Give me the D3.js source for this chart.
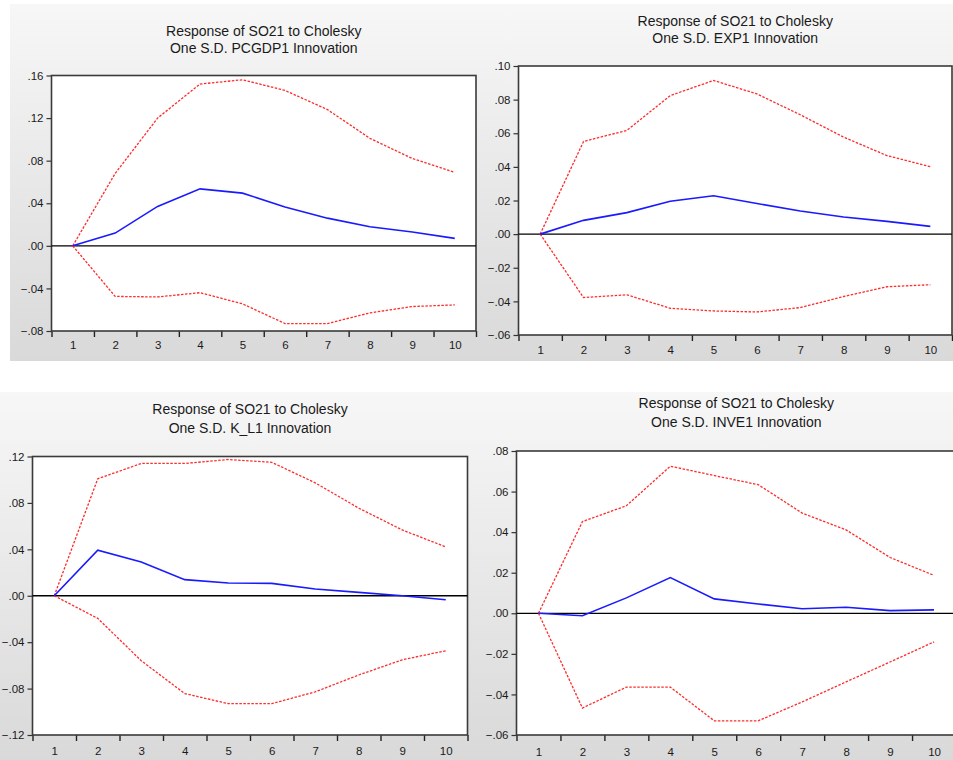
<!DOCTYPE html>
<html>
<head>
<meta charset="utf-8">
<script src="https://cdn.jsdelivr.net/npm/d3@7"></script>
<style>
  html, body { margin: 0; padding: 0; background: #fff; }
  svg { display: block; font-family: "Liberation Sans", Arial, sans-serif; }
</style>
</head>
<body>
<div id="chart"></div>
<script>
// horizon periods
const periods = [1, 2, 3, 4, 5, 6, 7, 8, 9, 10]

// PCGDP1 shock
const pcgdpResp  = [0, 0.012, 0.037, 0.0535, 0.0495, 0.0365, 0.026, 0.018, 0.013, 0.007]
const pcgdpUpper = [0, 0.068, 0.120, 0.152, 0.156, 0.146, 0.128, 0.101, 0.082, 0.069]
const pcgdpLower = [0, -0.0475, -0.048, -0.044, -0.0545, -0.073, -0.073, -0.063, -0.057, -0.0555]

// EXP1 shock
const expResp  = [0, 0.0082, 0.0128, 0.0196, 0.0228, 0.0182, 0.0138, 0.0102, 0.0076, 0.0046]
const expUpper = [0, 0.0551, 0.0617, 0.0824, 0.0914, 0.0834, 0.071, 0.0577, 0.0467, 0.0401]
const expLower = [0, -0.0377, -0.0361, -0.0441, -0.0457, -0.0463, -0.0437, -0.0371, -0.0313, -0.0301]

// K_L1 shock
const klResp  = [0, 0.0392, 0.029, 0.0139, 0.011, 0.0107, 0.0058, 0.0029, 0.0, -0.0035]
const klUpper = [0, 0.1008, 0.114, 0.114, 0.1174, 0.115, 0.0973, 0.0755, 0.0567, 0.0421]
const klLower = [0, -0.0195, -0.056, -0.0843, -0.093, -0.093, -0.0828, -0.0683, -0.0552, -0.0474]

// INVE1 shock
const inveResp  = [0, -0.0012, 0.0076, 0.0176, 0.0071, 0.0046, 0.0022, 0.003, 0.0013, 0.0017]
const inveUpper = [0, 0.0452, 0.053, 0.0725, 0.0679, 0.0634, 0.0494, 0.0411, 0.0275, 0.0187]
const inveLower = [0, -0.0467, -0.0364, -0.0364, -0.053, -0.053, -0.0437, -0.0338, -0.024, -0.0141]

const titleLine1 = 'Response of SO21 to Cholesky'
const shockNames = ['PCGDP1', 'EXP1', 'K_L1', 'INVE1']

const yTicks1 = [-0.08, -0.04, 0, 0.04, 0.08, 0.12, 0.16]
const yTicks2 = [-0.06, -0.04, -0.02, 0, 0.02, 0.04, 0.06, 0.08, 0.10]
const yTicks3 = [-0.12, -0.08, -0.04, 0, 0.04, 0.08, 0.12]
const yTicks4 = [-0.06, -0.04, -0.02, 0, 0.02, 0.04, 0.06, 0.08]

const panels = [
  { shock: shockNames[0], resp: pcgdpResp, upper: pcgdpUpper, lower: pcgdpLower, ticks: yTicks1,
    bg: [10, 4, 478, 361], plot: [51.5, 75.5, 476, 331], t1: 36, t2: 53, lab: 17.5 },
  { shock: shockNames[1], resp: expResp, upper: expUpper, lower: expLower, ticks: yTicks2,
    bg: [478, 4, 953, 361], plot: [518.5, 66, 952, 335], t1: 26, t2: 43, lab: 19 },
  { shock: shockNames[2], resp: klResp, upper: klUpper, lower: klLower, ticks: yTicks3,
    bg: [0, 392, 475, 760], plot: [32.5, 456.5, 467.5, 735], t1: 414, t2: 432.5, lab: 20 },
  { shock: shockNames[3], resp: inveResp, upper: inveUpper, lower: inveLower, ticks: yTicks4,
    bg: [473, 392, 953, 760], plot: [516.5, 451, 956, 735], t1: 408, t2: 426.5, lab: 20.5 }
]

const W = 953, H = 760

const svg = d3.select('#chart').append('svg')
  .attr('width', W)
  .attr('height', H)

const defs = svg.append('defs')
const grad = defs.append('linearGradient')
  .attr('id', 'bgGrad')
  .attr('x1', 0).attr('y1', 0).attr('x2', 0).attr('y2', 1)
grad.append('stop').attr('offset', '0%').attr('stop-color', '#f7f7f7')
grad.append('stop').attr('offset', '100%').attr('stop-color', '#d9d9d9')

const fmt = v => {
  const s = d3.format('.2f')(v)
  return s.replace('0.', '.')
}

function drawPanel(p, idx) {
  const [bx0, by0, bx1, by1] = p.bg
  const [left, top, right, bottom] = p.plot

  const g = svg.append('g').attr('class', 'panel-' + idx)

  g.append('rect')
    .attr('x', bx0).attr('y', by0)
    .attr('width', bx1 - bx0).attr('height', by1 - by0)
    .attr('fill', 'url(#bgGrad)')

  g.append('rect')
    .attr('x', left).attr('y', top)
    .attr('width', right - left).attr('height', bottom - top)
    .attr('fill', '#fff')

  const x = d3.scaleLinear().domain([0.5, 10.5]).range([left, right])
  const y = d3.scaleLinear().domain([p.ticks[0], p.ticks[p.ticks.length - 1]]).range([bottom, top])

  // titles
  const cx = (left + right) / 2
  g.append('text')
    .attr('x', cx).attr('y', p.t1)
    .attr('text-anchor', 'middle')
    .attr('font-size', 14)
    .attr('fill', '#1a1a1a')
    .text(titleLine1)
  g.append('text')
    .attr('x', cx).attr('y', p.t2)
    .attr('text-anchor', 'middle')
    .attr('font-size', 14)
    .attr('fill', '#1a1a1a')
    .text('One S.D. ' + p.shock + ' Innovation')

  // y axis
  const ya = g.append('g')
    .attr('transform', `translate(${left},0)`)
    .call(d3.axisLeft(y).tickValues(p.ticks).tickSize(5).tickPadding(3).tickFormat(fmt))
  ya.select('.domain').remove()
  ya.selectAll('.tick line').attr('stroke', '#333').attr('stroke-width', 1.2)
  ya.selectAll('text')
    .attr('font-size', 11.5)
    .attr('fill', '#1a1a1a')
    .attr('font-family', '"Liberation Sans", Arial, sans-serif')

  // x axis: ticks on period boundaries, labels on period centres
  const xt = g.append('g')
    .attr('transform', `translate(0,${bottom})`)
    .call(d3.axisBottom(x).tickValues(d3.range(0.5, 11, 1)).tickSize(6).tickFormat(''))
  xt.select('.domain').remove()
  xt.selectAll('.tick line').attr('stroke', '#222').attr('stroke-width', 1.4)

  const xl = g.append('g')
    .attr('transform', `translate(0,${bottom})`)
    .call(d3.axisBottom(x).tickValues(periods).tickSize(0).tickPadding(0).tickFormat(d3.format('d')))
  xl.select('.domain').remove()
  xl.selectAll('text')
    .attr('y', p.lab)
    .attr('dy', null)
    .attr('font-size', 11.5)
    .attr('fill', '#1a1a1a')
    .attr('font-family', '"Liberation Sans", Arial, sans-serif')

  // frame
  g.append('rect')
    .attr('x', left).attr('y', top)
    .attr('width', right - left).attr('height', bottom - top)
    .attr('fill', 'none')
    .attr('stroke', '#3a3a3a')
    .attr('stroke-width', 1.6)

  // zero line
  g.append('line')
    .attr('x1', left).attr('x2', right)
    .attr('y1', y(0)).attr('y2', y(0))
    .attr('stroke', '#000')
    .attr('stroke-width', 1.3)

  const line = d3.line()
    .x((d, i) => x(periods[i]))
    .y(d => y(d))

  ;[p.upper, p.lower].forEach(band => {
    g.append('path')
      .datum(band)
      .attr('d', line)
      .attr('fill', 'none')
      .attr('stroke', '#ff2a2a')
      .attr('stroke-width', 1.3)
      .attr('stroke-dasharray', '2.5,1.5')
  })

  g.append('path')
    .datum(p.resp)
    .attr('d', line)
    .attr('fill', 'none')
    .attr('stroke', '#1a1aff')
    .attr('stroke-width', 1.6)
}

panels.forEach(drawPanel)
</script>
</body>
</html>
